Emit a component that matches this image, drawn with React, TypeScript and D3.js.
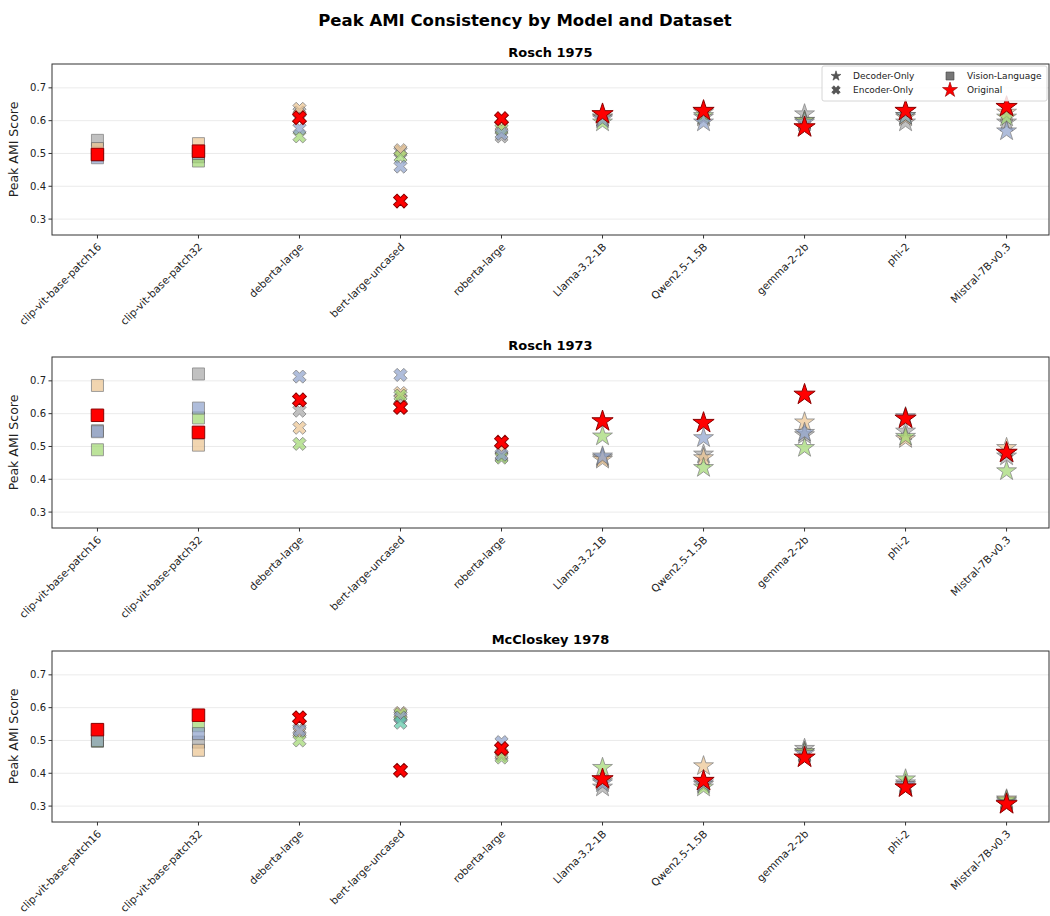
import React from "react";
import * as d3 from "d3";

const MODELS = [
  "clip-vit-base-patch16",
  "clip-vit-base-patch32",
  "deberta-large",
  "bert-large-uncased",
  "roberta-large",
  "Llama-3.2-1B",
  "Qwen2.5-1.5B",
  "gemma-2-2b",
  "phi-2",
  "Mistral-7B-v0.3",
];
const MODEL_TYPES = ["vl", "vl", "enc", "enc", "enc", "dec", "dec", "dec", "dec", "dec"];
const PANEL_TITLES = ["Rosch 1975", "Rosch 1973", "McCloskey 1978"];
const Y_TICKS = [0.3, 0.4, 0.5, 0.6, 0.7];
const VARIANT_COLORS = ["#a8a8a8", "#ecc490", "#a0d870", "#8ea2cc", "#5cc8a8"];

type V = number | null;
// Rosch 1975
const R75_GRAY: V[] = [0.54, 0.49, 0.625, 0.505, 0.552, 0.61, 0.61, 0.62, 0.595, 0.595];
const R75_TAN: V[] = [0.515, 0.53, 0.636, 0.51, 0.585, 0.61, 0.625, 0.6, 0.61, 0.625];
const R75_GREEN: V[] = [0.495, 0.477, 0.552, 0.49, 0.575, 0.595, 0.615, 0.6, 0.615, 0.61];
const R75_BLUE: V[] = [0.487, 0.5, 0.576, 0.46, 0.56, 0.605, 0.595, 0.595, 0.615, 0.568];
const R75_TEAL: V[] = [null, null, null, null, null, null, null, null, null, null];
const R75_ORIG: V[] = [0.497, 0.507, 0.609, 0.355, 0.606, 0.62, 0.63, 0.58, 0.63, 0.642];
// Rosch 1973
const R73_GRAY: V[] = [0.548, 0.721, 0.609, 0.645, 0.47, 0.465, 0.476, 0.535, 0.546, 0.47];
const R73_TAN: V[] = [0.686, 0.504, 0.557, 0.663, 0.49, 0.46, 0.465, 0.574, 0.523, 0.496];
const R73_GREEN: V[] = [0.49, 0.587, 0.508, 0.655, 0.466, 0.531, 0.435, 0.496, 0.53, 0.425];
const R73_BLUE: V[] = [0.545, 0.617, 0.713, 0.718, 0.475, 0.47, 0.526, 0.542, 0.59, 0.48];
const R73_TEAL: V[] = [null, null, null, null, null, null, null, null, null, null];
const R73_ORIG: V[] = [0.595, 0.543, 0.642, 0.619, 0.513, 0.577, 0.572, 0.658, 0.585, 0.481];
// McCloskey 1978
const M78_GRAY: V[] = [0.498, 0.495, 0.535, 0.575, 0.455, 0.357, 0.365, 0.475, 0.37, 0.315];
const M78_TAN: V[] = [0.5, 0.47, 0.525, 0.584, 0.46, 0.375, 0.422, 0.465, 0.36, 0.321];
const M78_GREEN: V[] = [0.498, 0.545, 0.5, 0.58, 0.448, 0.417, 0.357, 0.465, 0.382, 0.318];
const M78_BLUE: V[] = [0.5, 0.521, 0.53, 0.57, 0.495, 0.37, 0.37, 0.46, 0.365, 0.31];
const M78_TEAL: V[] = [null, null, null, 0.554, null, null, null, null, null, null];
const M78_ORIG: V[] = [0.533, 0.577, 0.569, 0.409, 0.475, 0.382, 0.377, 0.448, 0.357, 0.306];

const PANEL_VARIANTS = [
  [R75_GRAY, R75_TAN, R75_GREEN, R75_BLUE, R75_TEAL],
  [R73_GRAY, R73_TAN, R73_GREEN, R73_BLUE, R73_TEAL],
  [M78_GRAY, M78_TAN, M78_GREEN, M78_BLUE, M78_TEAL],
];
const PANEL_ORIG = [R75_ORIG, R73_ORIG, M78_ORIG];

const FONT = "DejaVu Sans, sans-serif";
const LEFT = 52;
const RIGHT = 1049;
const PANEL_TOPS = [64, 357, 651];
const PANEL_H = 171;

const x = d3.scaleLinear().domain([-0.45, 9.42]).range([LEFT, RIGHT]);

function markerPath(type: string, big: boolean): string {
  if (type === "vl") {
    return d3.symbol().type(d3.symbolSquare).size(big ? 156 : 144)() as string;
  }
  if (type === "enc") {
    return d3.symbol().type(d3.symbolCross).size(big ? 120 : 108)() as string;
  }
  return d3.symbol().type(d3.symbolStar).size(big ? 140 : 122)() as string;
}

function Marker({ type, cx, cy, fill, stroke, opacity, big, sw }: any) {
  const rot = type === "enc" ? " rotate(45)" : "";
  return (
    <path
      d={markerPath(type, big)}
      transform={`translate(${cx},${cy})${rot}`}
      fill={fill}
      stroke={stroke}
      strokeWidth={sw}
      opacity={opacity}
    />
  );
}

function Panel({ idx }: { idx: number }) {
  const top = PANEL_TOPS[idx];
  const y = d3.scaleLinear().domain([0.2515, 0.7727]).range([top + PANEL_H, top]);
  const variants = PANEL_VARIANTS[idx];
  const orig = PANEL_ORIG[idx];
  return (
    <g>
      {Y_TICKS.map((t) => (
        <line key={"g" + t} x1={LEFT} x2={RIGHT} y1={y(t)} y2={y(t)} stroke="#e6e6e6" strokeWidth={0.8} />
      ))}
      {variants.map((vals, vi) =>
        vals.map((v, mi) =>
          v == null ? null : (
            <Marker
              key={`v${vi}-${mi}`}
              type={MODEL_TYPES[mi]}
              cx={x(mi)}
              cy={y(v)}
              fill={VARIANT_COLORS[vi]}
              stroke="#555"
              sw={0.8}
              opacity={0.7}
              big={false}
            />
          )
        )
      )}
      {orig.map((v, mi) =>
        v == null ? null : (
          <Marker
            key={`o${mi}`}
            type={MODEL_TYPES[mi]}
            cx={x(mi)}
            cy={y(v)}
            fill="#ff0000"
            stroke="#8b0000"
            sw={1}
            opacity={1}
            big={true}
          />
        )
      )}
      <rect x={LEFT} y={top} width={RIGHT - LEFT} height={PANEL_H} fill="none" stroke="#333" strokeWidth={1} />
      {Y_TICKS.map((t) => (
        <g key={"t" + t}>
          <line x1={LEFT - 3.5} x2={LEFT} y1={y(t)} y2={y(t)} stroke="#333" />
          <text x={LEFT - 6} y={y(t)} dy="0.35em" textAnchor="end" fontSize={10} fontFamily={FONT} fill="#222">
            {t.toFixed(1)}
          </text>
        </g>
      ))}
      {MODELS.map((m, mi) => (
        <g key={"x" + mi}>
          <line x1={x(mi)} x2={x(mi)} y1={top + PANEL_H} y2={top + PANEL_H + 3.5} stroke="#333" />
          <text
            transform={`translate(${x(mi) + 2},${top + PANEL_H + 10}) rotate(-45)`}
            textAnchor="end"
            dy="0.35em"
            fontSize={10.5}
            fontFamily={FONT}
            fill="#222"
          >
            {m}
          </text>
        </g>
      ))}
      <text
        transform={`translate(18,${top + PANEL_H / 2}) rotate(-90)`}
        textAnchor="middle"
        fontSize={12.5}
        fontFamily={FONT}
        fill="#222"
      >
        Peak AMI Score
      </text>
      <text x={(LEFT + RIGHT) / 2} y={top - 7} textAnchor="middle" fontSize={13} fontWeight="bold" fontFamily={FONT}>
        {PANEL_TITLES[idx]}
      </text>
    </g>
  );
}

const LEGEND_ITEMS = [
  { label: "Decoder-Only", type: "dec", fill: "#555" },
  { label: "Encoder-Only", type: "enc", fill: "#555" },
  { label: "Vision-Language", type: "vl", fill: "#777" },
  { label: "Original", type: "dec", fill: "#ff0000" },
];

function Legend() {
  const lx = 822;
  const ly = 66;
  return (
    <g>
      <rect x={lx} y={ly} width={225} height={35} rx={2} fill="white" fillOpacity={0.85} stroke="#ccc" strokeWidth={0.8} />
      {LEGEND_ITEMS.map((it, i) => {
        const col = Math.floor(i / 2);
        const row = i % 2;
        const mx = lx + 14 + col * 114;
        const my = ly + 10 + row * 14;
        const size = it.label === "Original" ? 70 : it.type === "vl" ? 64 : it.type === "enc" ? 45 : 30;
        const sym =
          it.type === "vl" ? d3.symbolSquare : it.type === "enc" ? d3.symbolCross : d3.symbolStar;
        const rot = it.type === "enc" ? " rotate(45)" : "";
        return (
          <g key={it.label}>
            <path
              d={d3.symbol().type(sym).size(size)() as string}
              transform={`translate(${mx},${my})${rot}`}
              fill={it.fill}
              stroke={it.label === "Original" ? "#8b0000" : "#444"}
              strokeWidth={0.6}
            />
            <text x={mx + 17} y={my} dy="0.35em" fontSize={9} fontFamily={FONT} fill="#222">
              {it.label}
            </text>
          </g>
        );
      })}
    </g>
  );
}

export default function App() {
  return (
    <svg
      width={1050}
      height={916}
      style={{ position: "absolute", left: 0, top: 0, background: "white" }}
    >
      <rect width={1050} height={916} fill="white" />
      <text x={525} y={26} textAnchor="middle" fontSize={16.5} fontWeight="bold" fontFamily={FONT}>
        Peak AMI Consistency by Model and Dataset
      </text>
      {[0, 1, 2].map((i) => (
        <Panel key={i} idx={i} />
      ))}
      <Legend />
    </svg>
  );
}
